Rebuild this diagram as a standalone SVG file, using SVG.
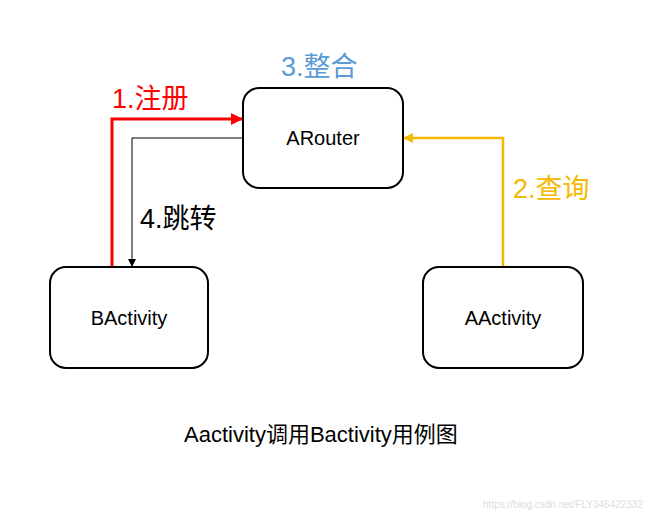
<svg xmlns="http://www.w3.org/2000/svg" width="650" height="518" viewBox="0 0 650 518">
<defs>
<style>
.box{fill:#fff;stroke:#000;stroke-width:2}
.t{font-family:"Liberation Sans","Noto Sans CJK SC",sans-serif}
.nt{font-size:20px;text-anchor:middle;fill:#000}
.lab{font-size:27px}
</style>
<marker id="aRed" viewBox="0 0 10 10" refX="10" refY="5" markerWidth="4" markerHeight="4" orient="auto" markerUnits="strokeWidth"><path d="M0,0L10,5L0,10z" fill="#f00"/></marker>
<marker id="aBlk" viewBox="0 0 10 10" refX="10" refY="5" markerWidth="8" markerHeight="8" orient="auto" markerUnits="strokeWidth"><path d="M0,0L10,5L0,10z" fill="#000"/></marker>
<marker id="aYel" viewBox="0 0 10 10" refX="10" refY="5" markerWidth="4" markerHeight="4" orient="auto" markerUnits="strokeWidth"><path d="M0,0L10,5L0,10z" fill="#f5b800"/></marker>
</defs>
<rect width="650" height="518" fill="#fff"/>
<g id="connectors" fill="none">
<path d="M112,267V119H243" stroke="#f00" stroke-width="3" marker-end="url(#aRed)"/>
<path d="M243,138H132V267" stroke="#000" stroke-width="1" marker-end="url(#aBlk)"/>
<path d="M503,267V138H403" stroke="#f5b800" stroke-width="2.5" marker-end="url(#aYel)"/>
</g>
<g id="arouter"><rect class="box" x="243" y="88" width="160" height="100" rx="16"/><text class="t nt" x="323" y="145">ARouter</text></g>
<g id="bactivity"><rect class="box" x="50" y="267" width="158" height="101" rx="16"/><text class="t nt" x="129" y="325">BActivity</text></g>
<g id="aactivity"><rect class="box" x="423" y="267" width="160" height="101" rx="16"/><text class="t nt" x="503" y="325">AActivity</text></g>
<g id="labels">
<text class="t lab" x="112" y="108" fill="#f00">1.注册</text>
<text class="t lab" x="281" y="76" fill="#5b9bd5">3.整合</text>
<text class="t lab" x="513" y="198" fill="#f5b800">2.查询</text>
<text class="t lab" x="140" y="228" fill="#000">4.跳转</text>
<text class="t" x="184" y="442" font-size="22" fill="#000">Aactivity调用Bactivity用例图</text>
<text class="t" x="643" y="508" font-size="10" fill="#ddd" text-anchor="end">https://blog.csdn.net/FLY346422332</text>
</g>
</svg>
